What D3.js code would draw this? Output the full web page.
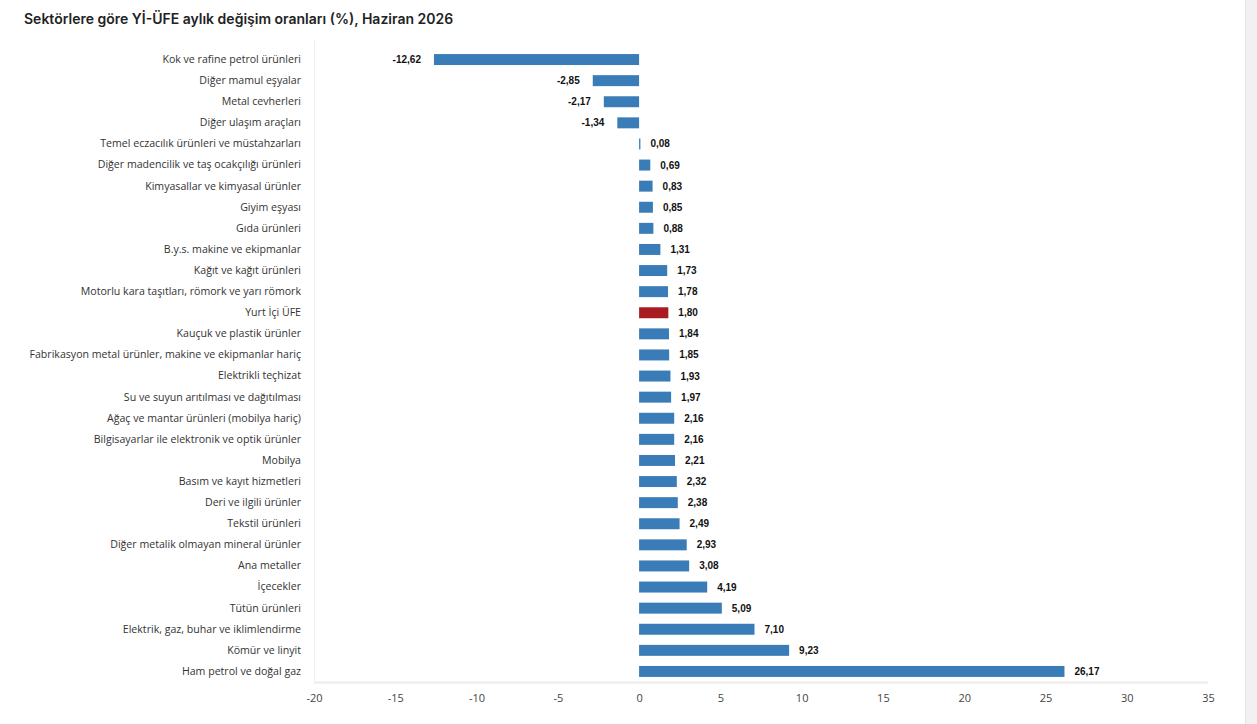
<!DOCTYPE html>
<html>
<head>
<meta charset="utf-8">
<script src="https://cdn.jsdelivr.net/npm/d3@7"></script>
<style>
  body { margin: 0; background: #fff; overflow: hidden; }
</style>
</head>
<body>
<div id="chart"></div>
<script>
// sektör adlari ve degerler
var sektorler = ["Kok ve rafine petrol ürünleri", "Diğer mamul eşyalar", "Metal cevherleri", "Diğer ulaşım araçları",
  "Temel eczacılık ürünleri ve müstahzarları", "Diğer madencilik ve taş ocakçılığı ürünleri", "Kimyasallar ve kimyasal ürünler",
  "Giyim eşyası", "Gıda ürünleri", "B.y.s. makine ve ekipmanlar", "Kağıt ve kağıt ürünleri",
  "Motorlu kara taşıtları, römork ve yarı römork", "Yurt İçi ÜFE", "Kauçuk ve plastik ürünler",
  "Fabrikasyon metal ürünler, makine ve ekipmanlar hariç", "Elektrikli teçhizat", "Su ve suyun arıtılması ve dağıtılması",
  "Ağaç ve mantar ürünleri (mobilya hariç)", "Bilgisayarlar ile elektronik ve optik ürünler", "Mobilya",
  "Basım ve kayıt hizmetleri", "Deri ve ilgili ürünler", "Tekstil ürünleri", "Diğer metalik olmayan mineral ürünler",
  "Ana metaller", "İçecekler", "Tütün ürünleri", "Elektrik, gaz, buhar ve iklimlendirme", "Kömür ve linyit",
  "Ham petrol ve doğal gaz"];
var degerler = [-12.62, -2.85, -2.17, -1.34, 0.08, 0.69, 0.83, 0.85, 0.88, 1.31, 1.73, 1.78, 1.80, 1.84, 1.85,
  1.93, 1.97, 2.16, 2.16, 2.21, 2.32, 2.38, 2.49, 2.93, 3.08, 4.19, 5.09, 7.10, 9.23, 26.17];
var xTicks = [-20, -15, -10, -5, 0, 5, 10, 15, 20, 25, 30, 35];
var vurgu = "Yurt İçi ÜFE";

var width = 1257, height = 724;
var margin = {top: 49, right: 49, bottom: 42, left: 314};

var svg = d3.select("#chart").append("svg")
  .attr("width", width)
  .attr("height", height);

// kaydirma cubugu (sag kenar)
svg.append("rect").attr("x", 1245).attr("y", 0).attr("width", 12).attr("height", height).attr("fill", "#f1f1f1");
svg.append("line").attr("x1", 1245.5).attr("x2", 1245.5).attr("y1", 0).attr("y2", height).attr("stroke", "#e4e4e4");

svg.append("text")
  .attr("x", 24).attr("y", 24)
  .attr("font-family", "Inter, sans-serif")
  .attr("font-weight", 600)
  .attr("font-size", "14px")
  .attr("fill", "#222")
  .text("Sektörlere göre Yİ-ÜFE aylık değişim oranları (%), Haziran 2026");

var data = sektorler.map(function(s, i) { return {ad: s, deger: degerler[i]}; });

var x = d3.scaleLinear().domain([-20, 35]).range([margin.left, width - margin.right]);
var y = d3.scaleBand().domain(sektorler).range([margin.top, height - margin.bottom]).paddingInner(0.48).paddingOuter(0.24);

// eksen cizgileri
svg.append("line").attr("x1", x(-20)).attr("x2", x(35)).attr("y1", height - margin.bottom + 0.5).attr("y2", height - margin.bottom + 0.5)
  .attr("stroke", "#ececec").attr("stroke-width", 2);
svg.append("line").attr("x1", x(-20) + 0.5).attr("x2", x(-20) + 0.5).attr("y1", margin.top - 9).attr("y2", height - margin.bottom)
  .attr("stroke", "#f0f0f0");

var xAxis = svg.append("g")
  .attr("transform", "translate(0," + (height - margin.bottom) + ")")
  .call(d3.axisBottom(x).tickValues(xTicks).tickSize(0).tickPadding(12)
    .tickFormat(function(d) { return String(d); }));
xAxis.select(".domain").remove();
xAxis.selectAll("text").attr("font-family", "'Open Sans', sans-serif").attr("font-size", "11px").attr("fill", "#444");

var yAxis = svg.append("g")
  .attr("transform", "translate(" + (margin.left - 13) + ",0)")
  .call(d3.axisLeft(y).tickSize(0).tickPadding(0));
yAxis.select(".domain").remove();
yAxis.selectAll("text").attr("font-family", "'Open Sans', sans-serif").attr("font-size", "10.6px").attr("fill", "#333");

svg.append("g").selectAll("rect")
  .data(data)
  .enter().append("rect")
  .attr("x", function(d) { return x(Math.min(0, d.deger)); })
  .attr("y", function(d) { return y(d.ad); })
  .attr("width", function(d) { return Math.max(1, Math.abs(x(d.deger) - x(0))); })
  .attr("height", y.bandwidth())
  .attr("fill", function(d) { return d.ad === vurgu ? "#a81c21" : "#3a7cb8"; });

var fmt = function(v) { return v.toFixed(2).replace(".", ","); };

svg.append("g").selectAll("text")
  .data(data)
  .enter().append("text")
  .attr("x", function(d) { return d.deger < 0 ? x(d.deger) - 13 : x(d.deger) + 10; })
  .attr("y", function(d) { return y(d.ad) + y.bandwidth() / 2; })
  .attr("dy", "0.35em")
  .attr("text-anchor", function(d) { return d.deger < 0 ? "end" : "start"; })
  .attr("font-family", "'Liberation Sans', Arial, sans-serif")
  .attr("font-weight", "bold")
  .attr("font-size", "10px")
  .attr("fill", "#111")
  .text(function(d) { return fmt(d.deger); });
</script>
</body>
</html>
